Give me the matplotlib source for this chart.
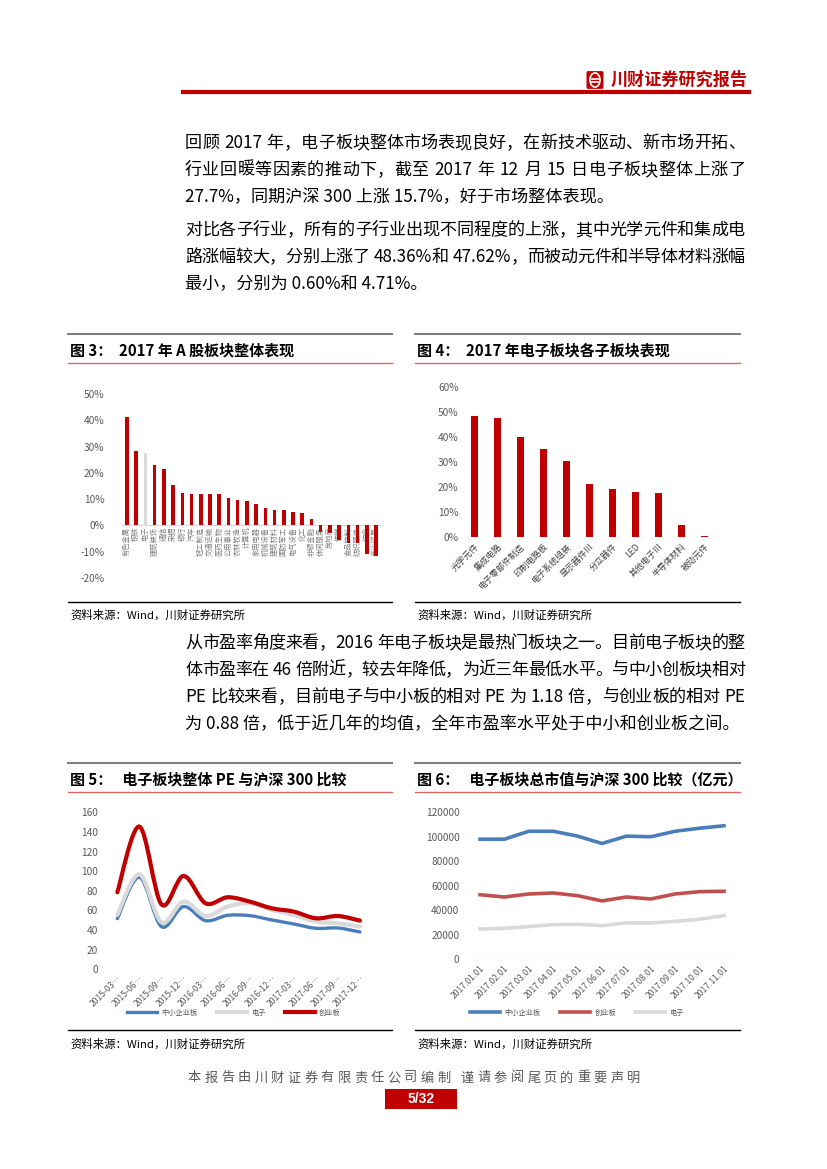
import re
import matplotlib
matplotlib.use("Agg")
import matplotlib.pyplot as plt
from matplotlib.lines import Line2D
from matplotlib.path import Path
from matplotlib.patches import PathPatch, FancyBboxPatch, Rectangle, Circle

plt.rcParams['font.family'] = ['Noto Sans CJK SC', 'DejaVu Sans']

RED = '#C00000'
GRAY_BAR = '#D9D9D9'
BLUE = '#4A7EBB'
LINE_GRAY = '#D9D9D9'
TICK = '#595959'

# ---- data ----
fig3_labels = ['有色金属', '钢铁', '电子', '建筑装饰', '通信', '采掘', '银行', '汽车',
               '轻工制造', '交通运输', '医药生物', '公用事业', '农林牧渔', '计算机',
               '家用电器', '机械设备', '建筑材料', '国防军工', '电气设备', '化工',
               '非银金融', '休闲服务', '房地产', '传媒', '食品饮料', '纺织服装',
               '综合', '商业贸易']
fig3_values = [41.3, 28.3, 27.7, 22.8, 21.5, 15.2, 12.4, 12.0, 12.0, 11.8, 11.8, 10.5,
               9.5, 9.4, 8.0, 6.7, 6.0, 5.8, 5.2, 4.8, 2.3, -2.5, -2.7, -5.7, -6.6,
               -6.6, -11.0, -11.5]

fig4_labels = ['光学元件', '集成电路', '电子零部件制造', '印制电路板', '电子系统组装',
               '显示器件Ⅲ', '分立器件', 'LED', '其他电子Ⅲ', '半导体材料', '被动元件']
fig4_values = [48.36, 47.62, 40.0, 35.1, 30.5, 21.4, 19.4, 17.9, 17.7, 4.71, 0.60]

fig5_dates = ['2015-03…', '2015-06…', '2015-09…', '2015-12…', '2016-03…', '2016-06…',
              '2016-09…', '2016-12…', '2017-03…', '2017-06…', '2017-09…', '2017-12…']
fig5_sme = [51.6, 93.8, 43.5, 63.9, 49.6, 55.0, 54.7, 50.3, 46.2, 41.8, 42.1, 38.0]
fig5_elec = [55.4, 96.8, 47.9, 69.0, 54.3, 63.9, 67.3, 60.5, 55.4, 48.6, 46.9, 43.5]
fig5_gem = [78.5, 145.4, 66.2, 95.1, 67.3, 73.4, 69.0, 62.2, 58.8, 52.0, 54.3, 49.6]

fig6_dates = ['2017.01.01', '2017.02.01', '2017.03.01', '2017.04.01', '2017.05.01',
              '2017.06.01', '2017.07.01', '2017.08.01', '2017.09.01', '2017.10.01',
              '2017.11.01']
fig6_sme = [98000, 98000, 104500, 104500, 100500, 94500, 100500, 100000, 104500, 107000, 109000]
fig6_gem = [52600, 50700, 53200, 54000, 51800, 47500, 50700, 49100, 53200, 55100, 55400]
fig6_elec = [24500, 25100, 26500, 28100, 28400, 27300, 29500, 29500, 30800, 32500, 35500]

para1 = ['回顾 2017 年，电子板块整体市场表现良好，在新技术驱动、新市场开拓、',
         '行业回暖等因素的推动下，截至 2017 年 12 月 15 日电子板块整体上涨了',
         '27.7%，同期沪深 300 上涨 15.7%，好于市场整体表现。']
para2 = ['对比各子行业，所有的子行业出现不同程度的上涨，其中光学元件和集成电',
         '路涨幅较大，分别上涨了 48.36%和 47.62%，而被动元件和半导体材料涨幅',
         '最小，分别为 0.60%和 4.71%。']
para3 = ['从市盈率角度来看，2016 年电子板块是最热门板块之一。目前电子板块的整',
         '体市盈率在 46 倍附近，较去年降低，为近三年最低水平。与中小创板块相对',
         'PE 比较来看，目前电子与中小板的相对 PE 为 1.18 倍，与创业板的相对 PE',
         '为 0.88 倍，低于近几年的均值，全年市盈率水平处于中小和创业板之间。']
footer = '本报告由川财证券有限责任公司编制 谨请参阅尾页的重要声明'

W, H = 827, 1169
fig = plt.figure(figsize=(W / 100, H / 100), dpi=100)
renderer = fig.canvas.get_renderer()


def fx(x):
    return x / W


def fy(y):
    return 1 - y / H


def px_axes(x0, y0, x1, y1):
    return fig.add_axes([fx(x0), fy(y1), (x1 - x0) / W, (y1 - y0) / H])


def hline(x0, x1, y, color, lw):
    fig.add_artist(Line2D([fx(x0), fx(x1)], [fy(y), fy(y)], color=color, lw=lw,
                          transform=fig.transFigure))


def put_line(text, x0, x1, y, size, justify=True, **kw):
    # split into words of latin text and single CJK chars, spread to fill x0..x1
    toks = re.findall(r'[A-Za-z0-9.%]+|\s+|.', text)
    if not justify:
        fig.text(fx(x0), fy(y), text, fontsize=size, va='center', ha='left', **kw)
        return
    space_w = size * 100 / 72 * 0.28
    items = []
    total = 0
    for t in toks:
        if t.isspace():
            items.append((None, space_w))
            total += space_w
            continue
        tt = fig.text(0, 0, t, fontsize=size, va='center', ha='left', **kw)
        w = tt.get_window_extent(renderer).width
        items.append((tt, w))
        total += w
    n_gap = len(items) - 1
    gap = (x1 - x0 - total) / n_gap if n_gap > 0 else 0
    x = x0
    for tt, w in items:
        if tt is not None:
            tt.set_position((fx(x), fy(y)))
        x += w + gap


def smooth_path(xs, ys):
    verts = [(xs[0], ys[0])]
    codes = [Path.MOVETO]
    n = len(xs)
    for i in range(n - 1):
        p0 = (xs[max(i - 1, 0)], ys[max(i - 1, 0)])
        p1 = (xs[i], ys[i])
        p2 = (xs[i + 1], ys[i + 1])
        p3 = (xs[min(i + 2, n - 1)], ys[min(i + 2, n - 1)])
        c1 = (p1[0] + (p2[0] - p0[0]) / 6, p1[1] + (p2[1] - p0[1]) / 6)
        c2 = (p2[0] - (p3[0] - p1[0]) / 6, p2[1] - (p3[1] - p1[1]) / 6)
        verts += [c1, c2, p2]
        codes += [Path.CURVE4] * 3
    return Path(verts, codes)


def clean(ax):
    for s in ax.spines.values():
        s.set_visible(False)
    ax.tick_params(length=0, colors=TICK, labelsize=7.3)


# ---- header ----
hline(183, 749, 92, RED, 3)
fig.add_artist(FancyBboxPatch((fx(588), fy(87)), 14 / W, 14 / H,
                              boxstyle='round,pad=0.001', fc=RED, ec=RED,
                              transform=fig.transFigure))
fig.add_artist(Circle((fx(595), fy(80)), 5 / W, fc='none', ec='white', lw=1.2,
                      transform=fig.transFigure))
hline(592, 598, 79, 'white', 1.2)
hline(592, 598, 82, 'white', 1.2)
fig.text(fx(611), fy(80), '川财证券研究报告', color=RED, fontsize=12.3, fontweight='bold',
         va='center', ha='left')

# ---- body text ----
BODY = 12.3
for block, ystart in [(para1, 143), (para2, 230), (para3, 643)]:
    for i, t in enumerate(block):
        last = i == len(block) - 1
        put_line(t, 185, 745, ystart + 27 * i, BODY, justify=not last)

# ---- figure frames ----
frames = [(68, 392, 334, 602, '图 3：  2017 年 A 股板块整体表现', 615),
          (415, 740, 334, 602, '图 4：  2017 年电子板块各子板块表现', 615),
          (68, 392, 763, 1030, '图 5：   电子板块整体 PE 与沪深 300 比较', 1044),
          (415, 740, 763, 1030, '图 6：   电子板块总市值与沪深 300 比较（亿元）', 1044)]
for x0, x1, ytop, ybot, title, ysrc in frames:
    hline(x0, x1, ytop, '#7F7F7F', 1.5)
    fig.text(fx(x0 + 2), fy(ytop + 16), title, fontsize=10.8, fontweight='bold',
             va='center', ha='left')
    hline(x0, x1, ytop + 29, '#E06666', 1.0)
    hline(x0, x1, ybot, 'black', 1.0)
    fig.text(fx(x0 + 2), fy(ysrc), '资料来源：Wind，川财证券研究所', fontsize=8.2,
             style='italic', va='center', ha='left')

# ---- fig 3 ----
ax3 = px_axes(122.4, 394, 380.6, 578)
clean(ax3)
pos3 = list(range(len(fig3_labels)))
colors3 = [GRAY_BAR if lab == '电子' else RED for lab in fig3_labels]
ax3.bar(pos3, [v / 100 for v in fig3_values], width=0.38, color=colors3, zorder=3)
ax3.axhline(0, color='#D9D9D9', lw=0.8, zorder=0)
ax3.set_xlim(-0.5, len(pos3) - 0.5)
ax3.set_ylim(-0.2, 0.5)
ax3.set_yticks([-0.2, -0.1, 0, 0.1, 0.2, 0.3, 0.4, 0.5])
ax3.set_yticklabels(['-20%', '-10%', '0%', '10%', '20%', '30%', '40%', '50%'])
ax3.tick_params(axis='y', pad=13)
ax3.set_xticks([])
for p, lab in zip(pos3, fig3_labels):
    ax3.text(p, -0.005, lab, rotation=90, ha='center', va='top', fontsize=5.2,
             color='#7F7F7F', zorder=2)

# ---- fig 4 ----
ax4 = px_axes(462.8, 387, 715.8, 537)
clean(ax4)
pos4 = list(range(len(fig4_labels)))
ax4.bar(pos4, [v / 100 for v in fig4_values], width=0.32, color=RED)
ax4.axhline(0, color='#D9D9D9', lw=0.8, zorder=0)
ax4.set_xlim(-0.5, len(pos4) - 0.5)
ax4.set_ylim(0, 0.6)
ax4.set_yticks([0, 0.1, 0.2, 0.3, 0.4, 0.5, 0.6])
ax4.set_yticklabels(['0%', '10%', '20%', '30%', '40%', '50%', '60%'])
ax4.tick_params(axis='y', pad=3)
ax4.set_xticks(pos4)
ax4.set_xticklabels(fig4_labels, rotation=45, ha='right', rotation_mode='anchor',
                    fontsize=6.2, color='#404040')

# ---- fig 5 ----
ax5 = px_axes(106.3, 812.3, 371, 969.3)
clean(ax5)
pos5 = list(range(len(fig5_dates)))
for vals, col, lw in [(fig5_sme, BLUE, 2.4), (fig5_elec, LINE_GRAY, 3.0),
                      (fig5_gem, RED, 3.0)]:
    ax5.add_patch(PathPatch(smooth_path(pos5, vals), fill=False, ec=col, lw=lw,
                            capstyle='round'))
ax5.axhline(0, color='#D9D9D9', lw=0.8, zorder=0)
ax5.set_xlim(-0.5, len(pos5) - 0.5)
ax5.set_ylim(0, 160)
ax5.set_yticks(range(0, 161, 20))
ax5.tick_params(axis='y', pad=6)
ax5.set_xticks(pos5)
ax5.set_xticklabels(fig5_dates, rotation=45, ha='right', rotation_mode='anchor',
                    fontsize=6.2, color=TICK)
leg5 = [Line2D([0], [0], color=BLUE, lw=2.4, label='中小企业板'),
        Line2D([0], [0], color=LINE_GRAY, lw=3, label='电子'),
        Line2D([0], [0], color=RED, lw=3, label='创业板')]
fig.legend(handles=leg5, loc='center', bbox_to_anchor=(fx(234), fy(1013)), ncol=3,
           frameon=False, fontsize=5.2, handlelength=4.2, columnspacing=2.6,
           handletextpad=0.6, labelcolor=TICK)

# ---- fig 6 ----
ax6 = px_axes(467.8, 812.3, 736.2, 959)
clean(ax6)
pos6 = list(range(len(fig6_dates)))
ax6.plot(pos6, fig6_sme, color=BLUE, lw=2.6)
ax6.plot(pos6, fig6_gem, color='#C0504D', lw=2.6)
ax6.plot(pos6, fig6_elec, color=LINE_GRAY, lw=2.6)
ax6.axhline(0, color='#D9D9D9', lw=0.8, zorder=0)
ax6.set_xlim(-0.5, len(pos6) - 0.5)
ax6.set_ylim(0, 120000)
ax6.set_yticks(range(0, 120001, 20000))
ax6.tick_params(axis='y', pad=6)
ax6.set_xticks(pos6)
ax6.set_xticklabels(fig6_dates, rotation=45, ha='right', rotation_mode='anchor',
                    fontsize=6.2, color=TICK)
leg6 = [Line2D([0], [0], color=BLUE, lw=2.6, label='中小企业板'),
        Line2D([0], [0], color='#C0504D', lw=2.6, label='创业板'),
        Line2D([0], [0], color=LINE_GRAY, lw=2.6, label='电子')]
fig.legend(handles=leg6, loc='center', bbox_to_anchor=(fx(577), fy(1013)), ncol=3,
           frameon=False, fontsize=5.2, handlelength=4.2, columnspacing=2.6,
           handletextpad=0.6, labelcolor=TICK)

# ---- footer ----
put_line(footer, 188, 640, 1078, 9.5, color='#595959')
fig.add_artist(Rectangle((fx(385), fy(1109)), 72 / W, 20 / H, fc=RED, ec='none',
                         transform=fig.transFigure))
fig.text(fx(421), fy(1099), '5/32', fontsize=10, fontweight='bold', color='white',
         ha='center', va='center', family=['Liberation Sans', 'DejaVu Sans'])

fig.savefig('out.png', dpi=100)
